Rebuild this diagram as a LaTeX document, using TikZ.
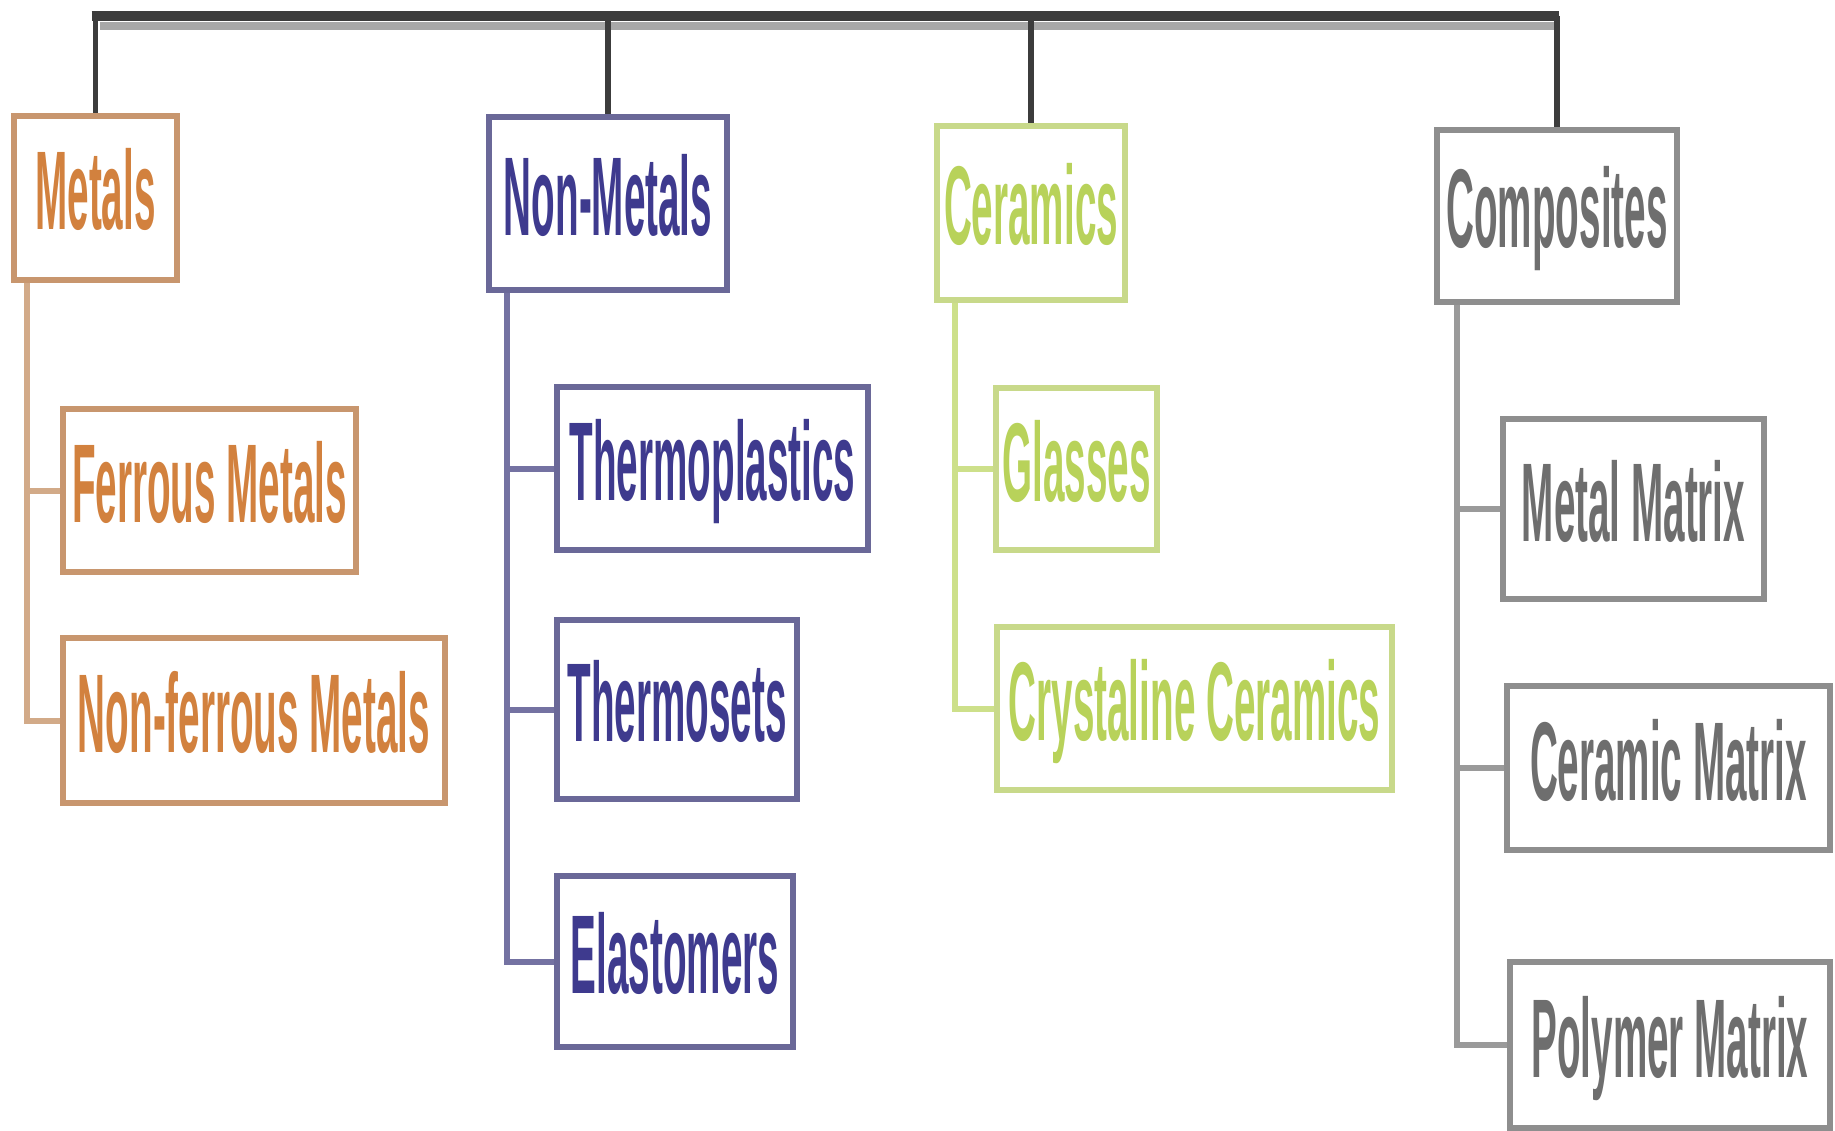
\documentclass[tikz,border=0pt]{standalone}
\usepackage{fontspec}
\newfontfamily\condfont[FakeStretch=0.345]{Liberation Sans Bold}
\definecolor{mborder}{HTML}{C8966E}
\definecolor{mtext}{HTML}{D2813E}
\definecolor{mline}{HTML}{D2AA88}
\definecolor{nborder}{HTML}{6A6898}
\definecolor{ntext}{HTML}{3E3A8E}
\definecolor{nline}{HTML}{7472A2}
\definecolor{cborder}{HTML}{C8D98A}
\definecolor{ctext}{HTML}{B8D25A}
\definecolor{cline}{HTML}{CDE08A}
\definecolor{kborder}{HTML}{8E8E8E}
\definecolor{ktext}{HTML}{6E6E6E}
\definecolor{kline}{HTML}{9A9A9A}
\definecolor{barcol}{HTML}{3C3C3C}
\definecolor{barshade}{HTML}{A8A8A8}
\begin{document}
\begin{tikzpicture}[x=1pt,y=-1pt,
  box/.style={draw=#1, line width=5.5pt, fill=white, inner sep=0pt,
    font=\condfont\fontsize{112}{112}\selectfont, text height=80pt, text depth=16pt},
  metalbox/.style={box=mborder, text=mtext},
  nonbox/.style={box=nborder, text=ntext},
  cerbox/.style={box=cborder, text=ctext},
  compbox/.style={box=kborder, text=ktext},
  bar/.style={barcol, line width=10pt},
  drop/.style={barcol, line width=5.5pt},
  branch/.style={line width=6pt, #1}
]
\fill[white] (0,0) rectangle (1835,1131);
\useasboundingbox (0,0) rectangle (1835,1131);

% top-level boxes
\node[metalbox, minimum width=163pt, minimum height=164pt] (metals) at (95.5,198) {Metals};
\node[nonbox, minimum width=238pt, minimum height=173pt] (nonmetals) at (608,203.5) {Non-Metals};
\node[cerbox, minimum width=188pt, minimum height=174pt] (ceramics) at (1031,213) {Ceramics};
\node[compbox, minimum width=240pt, minimum height=172pt] (composites) at (1557,216) {Composites};

% children
\node[metalbox, minimum width=293pt, minimum height=163pt] (ferrous) at (209.5,490.5) {Ferrous Metals};
\node[metalbox, minimum width=382pt, minimum height=165pt] (nonferrous) at (254,720.5) {Non-ferrous Metals};

\node[nonbox, minimum width=311pt, minimum height=163pt] (thermoplastics) at (712.5,468.5) {Thermoplastics};
\node[nonbox, minimum width=240pt, minimum height=179pt] (thermosets) at (677,709.5) {Thermosets};
\node[nonbox, minimum width=236pt, minimum height=171pt] (elastomers) at (675,961.5) {Elastomers};

\node[cerbox, minimum width=161pt, minimum height=162pt] (glasses) at (1076.5,469) {Glasses};
\node[cerbox, minimum width=395pt, minimum height=163pt] (crystaline) at (1194.5,708.5) {Crystaline Ceramics};

\node[compbox, minimum width=261pt, minimum height=180pt] (metalmatrix) at (1633.5,509) {Metal Matrix};
\node[compbox, minimum width=323pt, minimum height=164pt] (ceramicmatrix) at (1668.5,768) {Ceramic Matrix};
\node[compbox, minimum width=320pt, minimum height=166pt] (polymermatrix) at (1670,1045) {Polymer Matrix};

% top bar
\coordinate (bary) at (0,16);
\coordinate (shadey) at (0,26);
\draw[barshade, line width=8pt] ([xshift=4pt]metals.north |- shadey) -- (composites.north |- shadey);
\draw[bar] ([xshift=-4pt]metals.north |- bary) -- ([xshift=2pt]composites.north |- bary);
\draw[drop] (metals.north |- bary) -- (metals.north);
\draw[drop] (nonmetals.north |- bary) -- (nonmetals.north);
\draw[drop] (ceramics.north |- bary) -- (ceramics.north);
\draw[drop] (composites.north |- bary) -- (composites.north);

% branches
\coordinate (mb) at ([xshift=16pt]metals.south west);
\coordinate (nb) at ([xshift=21pt]nonmetals.south west);
\coordinate (cb) at ([xshift=21pt]ceramics.south west);
\coordinate (kb) at ([xshift=23pt]composites.south west);

\draw[branch=mline] (mb) |- (ferrous.west);
\draw[branch=mline] (mb) |- (nonferrous.west);

\draw[branch=nline] (nb) |- (thermoplastics.west);
\draw[branch=nline] (nb) |- (thermosets.west);
\draw[branch=nline] (nb) |- (elastomers.west);

\draw[branch=cline] (cb) |- (glasses.west);
\draw[branch=cline] (cb) |- (crystaline.west);

\draw[branch=kline] (kb) |- (metalmatrix.west);
\draw[branch=kline] (kb) |- (ceramicmatrix.west);
\draw[branch=kline] (kb) |- (polymermatrix.west);
\end{tikzpicture}
\end{document}
